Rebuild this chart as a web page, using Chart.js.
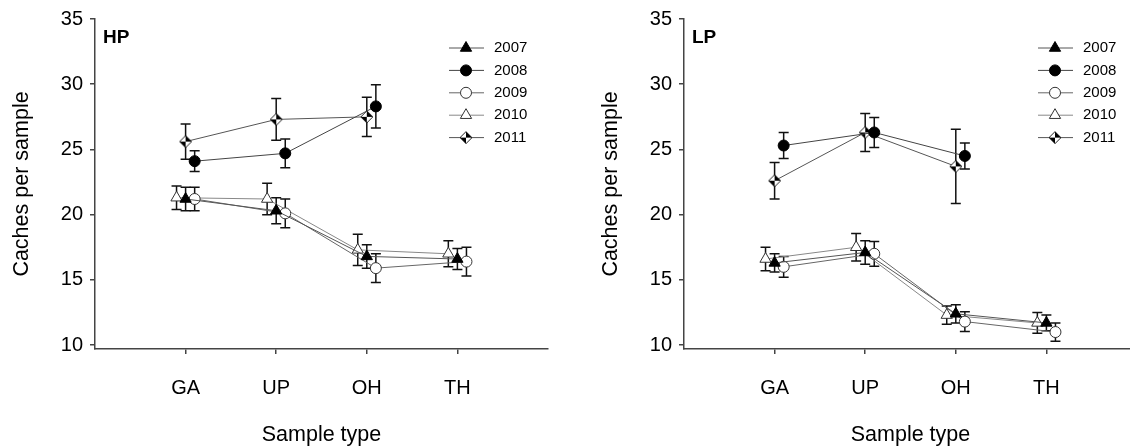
<!DOCTYPE html>
<html>
<head>
<meta charset="utf-8">
<script src="https://cdn.jsdelivr.net/npm/chart.js@4.4.0/dist/chart.umd.min.js"></script>
<style>
    html, body { margin: 0; padding: 0; background: #fff; overflow: hidden; width: 1130px; height: 448px; }
    canvas { position: absolute; top: 0; }
    #hpChart { left: 0; }
    #lpChart { left: 589px; }
</style>
</head>
<body>
<canvas id="hpChart" width="589" height="448"></canvas>
<canvas id="lpChart" width="589" height="448"></canvas>
<script>
// Data
const categories = ['GA', 'UP', 'OH', 'TH'];
const years = ['2007', '2008', '2009', '2010', '2011'];
const yTicks = [10, 15, 20, 25, 30, 35];

// HP panel: means and error bars
const hp2007 = [21.2, 20.3, 16.8, 16.6];
const hp2007Err = [0.9, 1.0, 0.9, 0.8];
const hp2008 = [24.1, 24.7, 28.3];
const hp2008Err = [0.8, 1.1, 1.65];
const hp2009 = [21.2, 20.1, 15.9, 16.4];
const hp2009Err = [0.9, 1.1, 1.1, 1.1];
const hp2010 = [21.3, 21.2, 17.3, 17.0];
const hp2010Err = [0.9, 1.2, 1.2, 1.0];
const hp2011 = [25.6, 27.3, 27.5];
const hp2011Err = [1.35, 1.6, 1.5];

// LP panel: means and error bars
const lp2007 = [16.3, 17.1, 12.4, 11.7];
const lp2007Err = [0.7, 0.9, 0.7, 0.6];
const lp2008 = [25.3, 26.3, 24.5];
const lp2008Err = [1.0, 1.15, 1.0];
const lp2009 = [16.0, 17.0, 11.8, 11.0];
const lp2009Err = [0.8, 0.95, 0.75, 0.7];
const lp2010 = [16.6, 17.5, 12.3, 11.7];
const lp2010Err = [0.9, 1.05, 0.7, 0.8];
const lp2011 = [22.6, 26.3, 23.7];
const lp2011Err = [1.4, 1.45, 2.85];

// Half black / half white diamond marker
function makeDiamond(size) {
    const c = document.createElement('canvas');
    c.width = c.height = size;
    const g = c.getContext('2d');
    const h = size / 2, r = h - 1;
    const quads = [
        [[h, h - r], [h, h], [h - r, h], '#fff'],
        [[h, h - r], [h, h], [h + r, h], '#000'],
        [[h + r, h], [h, h], [h, h + r], '#fff'],
        [[h, h + r], [h, h], [h - r, h], '#000']
    ];
    quads.forEach(q => {
        g.beginPath();
        g.moveTo(q[0][0], q[0][1]);
        g.lineTo(q[1][0], q[1][1]);
        g.lineTo(q[2][0], q[2][1]);
        g.closePath();
        g.fillStyle = q[3];
        g.fill();
    });
    g.beginPath();
    g.moveTo(h, h - r); g.lineTo(h + r, h); g.lineTo(h, h + r); g.lineTo(h - r, h); g.closePath();
    g.strokeStyle = '#222';
    g.lineWidth = 1;
    g.stroke();
    return c;
}

const diamond = makeDiamond(14);

const seriesStyle = {
    '2007': { pointStyle: 'triangle', radius: 6.5, fill: '#000', border: '#000', line: '#555', offset: 0 },
    '2008': { pointStyle: 'circle', radius: 5.5, fill: '#000', border: '#000', line: '#444', offset: 0.1 },
    '2009': { pointStyle: 'circle', radius: 5.5, fill: '#fff', border: '#333', line: '#666', offset: 0.1 },
    '2010': { pointStyle: 'triangle', radius: 6.5, fill: '#fff', border: '#333', line: '#888', offset: -0.1 },
    '2011': { pointStyle: diamond, radius: 7, fill: '#fff', border: '#222', line: '#555', offset: 0 }
};

const font = { family: '"Liberation Sans", Arial, sans-serif', size: 20 };
const titleFont = { family: '"Liberation Sans", Arial, sans-serif', size: 21.5 };

function buildDatasets(values, errors) {
    return years.map((yr, i) => {
        const st = seriesStyle[yr];
        return {
            label: yr,
            data: values[i].map((v, j) => ({ x: j + 1 + st.offset, y: v, err: errors[i][j] })),
            showLine: true,
            borderColor: st.line,
            borderWidth: 1,
            pointStyle: st.pointStyle,
            pointRadius: st.radius,
            pointBackgroundColor: st.fill,
            pointBorderColor: st.border,
            pointBorderWidth: 1,
            tension: 0
        };
    });
}

// Error bars drawn under the lines and markers
const errorBars = {
    id: 'errorBars',
    beforeDatasetsDraw(chart) {
        const { ctx, scales: { x, y } } = chart;
        ctx.save();
        ctx.strokeStyle = '#111';
        ctx.lineWidth = 1.5;
        chart.data.datasets.forEach(ds => {
            ds.data.forEach(p => {
                const px = x.getPixelForValue(p.x);
                const top = y.getPixelForValue(p.y + p.err);
                const bot = y.getPixelForValue(p.y - p.err);
                ctx.beginPath();
                ctx.moveTo(px, top); ctx.lineTo(px, bot);
                ctx.moveTo(px - 5, top); ctx.lineTo(px + 5, top);
                ctx.moveTo(px - 5, bot); ctx.lineTo(px + 5, bot);
                ctx.stroke();
            });
        });
        ctx.restore();
    }
};

// Panel label and legend inside the plot
const panelLegend = {
    id: 'panelLegend',
    afterDraw(chart, args, opts) {
        const ctx = chart.ctx;
        ctx.save();
        ctx.fillStyle = '#000';
        ctx.font = 'bold 19px "Liberation Sans", Arial, sans-serif';
        ctx.textBaseline = 'alphabetic';
        ctx.textAlign = 'left';
        ctx.fillText(opts.label, 103, 43);

        ctx.font = '15px "Liberation Sans", Arial, sans-serif';
        ctx.textBaseline = 'middle';
        chart.data.datasets.forEach((ds, i) => {
            const yy = 48 + i * 22.4;
            ctx.strokeStyle = ds.borderColor;
            ctx.lineWidth = 1;
            ctx.beginPath();
            ctx.moveTo(449, yy); ctx.lineTo(484, yy);
            ctx.stroke();
            ctx.fillStyle = ds.pointBackgroundColor;
            ctx.strokeStyle = ds.pointBorderColor;
            Chart.helpers.drawPoint(ctx, { pointStyle: ds.pointStyle, radius: ds.pointRadius, rotation: 0, borderWidth: 1 }, 466, yy);
            ctx.fillStyle = '#000';
            ctx.fillText(ds.label, 494, yy);
        });
        ctx.restore();
    }
};

function makeChart(id, label, values, errors) {
    const ctx = document.getElementById(id).getContext('2d');
    return new Chart(ctx, {
        type: 'scatter',
        data: { datasets: buildDatasets(values, errors) },
        options: {
            responsive: false,
            animation: false,
            devicePixelRatio: 1,
            layout: { padding: { left: 0, top: 18, right: 41, bottom: 0 } },
            plugins: {
                legend: { display: false },
                tooltip: { enabled: false },
                panelLegend: { label: label }
            },
            scales: {
                x: {
                    type: 'linear',
                    min: 0,
                    max: 5,
                    afterBuildTicks: s => { s.ticks = categories.map((c, i) => ({ value: i + 1 })); },
                    afterFit: s => { s.height = 99; },
                    ticks: { callback: v => categories[v - 1], font: font, color: '#000', padding: 22, autoSkip: false, maxRotation: 0 },
                    grid: { display: true, drawOnChartArea: false, drawTicks: true, tickLength: 5, color: '#444', lineWidth: 1.5 },
                    border: { color: '#444', width: 1.5 },
                    title: { display: true, text: 'Sample type', font: titleFont, color: '#000', padding: { top: 0, bottom: 0 } }
                },
                y: {
                    min: 9.7,
                    max: 35,
                    afterBuildTicks: s => { s.ticks = yTicks.map(v => ({ value: v })); },
                    afterFit: s => { s.width = 95; },
                    ticks: { font: font, color: '#000', padding: 7 },
                    grid: { display: true, drawOnChartArea: false, drawTicks: true, tickLength: 5, color: '#444', lineWidth: 1.5 },
                    border: { color: '#444', width: 1.5 },
                    title: { display: true, text: 'Caches per sample', font: titleFont, color: '#000', padding: { top: 9, bottom: 0 } }
                }
            }
        },
        plugins: [errorBars, panelLegend]
    });
}

makeChart('hpChart', 'HP',
    [hp2007, hp2008, hp2009, hp2010, hp2011],
    [hp2007Err, hp2008Err, hp2009Err, hp2010Err, hp2011Err]);

makeChart('lpChart', 'LP',
    [lp2007, lp2008, lp2009, lp2010, lp2011],
    [lp2007Err, lp2008Err, lp2009Err, lp2010Err, lp2011Err]);
</script>
</body>
</html>
